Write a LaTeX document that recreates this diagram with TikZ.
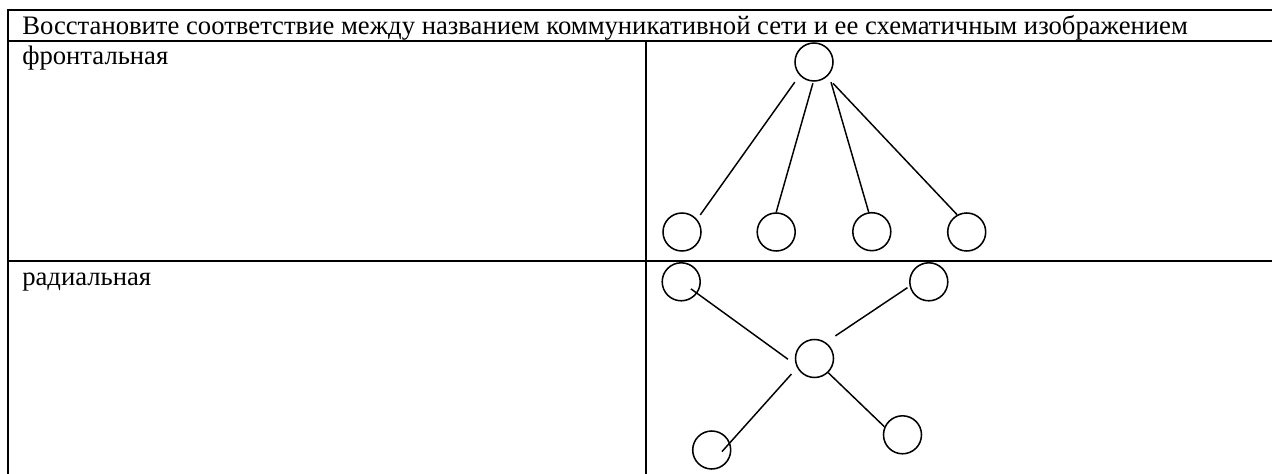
\documentclass[tikz,border=0pt]{standalone}
\usepackage{fontspec}
\setmainfont{Liberation Serif}
\begin{document}
\begin{tikzpicture}[x=0.75pt,y=-0.75pt,
  grid/.style={line width=1.5pt,line cap=rect},
  nd/.style={circle,draw,line width=1.15pt,minimum size=28.5pt,inner sep=0pt},
  ln/.style={line width=1.1pt},
  lbl/.style={anchor=base west,inner sep=0pt,font=\fontsize{20}{24}\selectfont}]
\useasboundingbox (0,0) rectangle (1272,474);
\begin{scope}
\clip (0,0) rectangle (1272,474);
% table rules
\draw[grid] (8.3,480) -- (8.3,10) -- (1280,10);
\draw[grid] (8.3,41) -- (1280,41);
\draw[grid] (8.3,261) -- (1280,261);
\draw[grid] (645.7,41) -- (645.7,480);
\end{scope}
% texts
\node[lbl] (h) at (22,35) {Восстановите соответствие между названием коммуникативной сети и ее схематичным изображением};
\node[lbl] (f) at (22,65) {фронтальная};
\node[lbl] (r) at (22,286) {радиальная};
% frontal network
\node[nd] (t) at (814,62) {};
\node[nd] (b1) at (682,232) {};
\node[nd] (b2) at (776.2,232) {};
\node[nd] (b3) at (871.8,231.7) {};
\node[nd] (b4) at (966.7,232) {};
\draw[ln,shorten <=6.15pt,shorten >=4.05pt] (t.223.1) -- (b1.40.3);
\draw[ln,shorten <=1.2pt] (t.268.4) -- (b2.90);
\draw[ln,shorten <=5.6pt] (t.319.3) -- (b3.99.9);
\draw[ln,shorten <=6.6pt] (t.311.7) -- (b4.119.7);
% radial network
\node[nd] (r1) at (681.2,281.8) {};
\node[nd] (r2) at (928.8,281.8) {};
\node[nd] (rc) at (814.5,358.5) {};
\node[nd] (r3) at (711.7,450) {};
\node[nd] (r4) at (902.5,434.8) {};
\draw[ln,shorten <=9pt,shorten >=7.3pt] (r1.center) -- (rc.199.6);
\draw[ln,shorten <=1.9pt,shorten >=8.6pt] (r2.193.4) -- (rc.55.9);
\draw[ln,shorten <=6.3pt,shorten >=-9.1pt] (rc.208.3) -- (r3.22);
\draw[ln] (rc.314.3) -- (r4.156);
\end{tikzpicture}
\end{document}
